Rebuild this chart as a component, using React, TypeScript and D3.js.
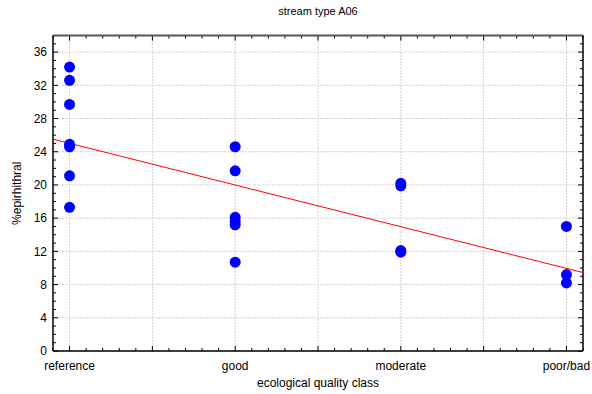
import React from "react";
import { scaleLinear, range, line } from "d3";

const categories = ["reference", "good", "moderate", "poor/bad"];
// values per category (index into categories)
const referenceValues = [34.2, 32.6, 29.7, 24.9, 24.6, 21.1, 17.3];
const goodValues = [24.6, 21.7, 16.1, 15.6, 15.2, 10.7];
const moderateValues = [20.2, 19.9, 12.1, 11.9];
const poorValues = [15.0, 9.2, 8.2];
const yTicks = [0, 4, 8, 12, 16, 20, 24, 28, 32, 36];

const W = 592;
const H = 394;
const margin = { top: 35.5, right: 9, bottom: 43, left: 53 };

export default function App() {
  const points = [referenceValues, goodValues, moderateValues, poorValues].flatMap((vals, i) =>
    vals.map((v) => ({ x: i, y: v }))
  );

  const x = scaleLinear().domain([-0.1, 3.1]).range([margin.left, W - margin.right]);
  const y = scaleLinear().domain([0, 38]).range([H - margin.bottom, margin.top]);

  // least squares fit
  const n = points.length;
  const mx = points.reduce((s, p) => s + p.x, 0) / n;
  const my = points.reduce((s, p) => s + p.y, 0) / n;
  const sxy = points.reduce((s, p) => s + (p.x - mx) * (p.y - my), 0);
  const sxx = points.reduce((s, p) => s + (p.x - mx) ** 2, 0);
  const slope = sxy / sxx;
  const icpt = my - slope * mx;
  const fit = [-0.1, 3.1].map((v) => [v, icpt + slope * v] as [number, number]);
  const fitPath = line<[number, number]>()
    .x((d) => x(d[0]))
    .y((d) => y(d[1]))(fit);

  const x0 = x.range()[0];
  const x1 = x.range()[1];
  const y0 = y.range()[0];
  const y1 = y.range()[1];

  const xGrid = range(0, 3.01, 0.5);
  const xMinor = range(-0.1, 3.101, 0.1);
  const yMinor = range(0, 38.01, 1);

  return (
    <svg width={W} height={H} style={{ position: "absolute", left: 0, top: 0, fontFamily: "Liberation Sans, Arial, sans-serif" }}>
      <rect width={W} height={H} fill="#fff" />
      {/* grid */}
      {yTicks.map((t) => (
        <line key={"gy" + t} x1={x0} x2={x1} y1={y(t)} y2={y(t)} stroke="#d2d2d2" strokeWidth={1} strokeDasharray="2,1" />
      ))}
      {xGrid.map((t) => (
        <line key={"gx" + t} x1={x(t)} x2={x(t)} y1={y0} y2={y1} stroke="#d2d2d2" strokeWidth={1} strokeDasharray="2,1" />
      ))}
      {/* minor ticks */}
      {yMinor.map((t) => {
        const len = t % 4 === 0 ? 5 : 3;
        return (
          <g key={"my" + t}>
            <line x1={x0} x2={x0 + len} y1={y(t)} y2={y(t)} stroke="#000" />
            <line x1={x1} x2={x1 - len} y1={y(t)} y2={y(t)} stroke="#000" />
          </g>
        );
      })}
      {xMinor.map((t, i) => {
        const major = Math.abs(t * 2 - Math.round(t * 2)) < 1e-6;
        const len = major ? 5 : 3;
        return (
          <g key={"mx" + i}>
            <line x1={x(t)} x2={x(t)} y1={y0} y2={y0 - len} stroke="#000" />
            <line x1={x(t)} x2={x(t)} y1={y1} y2={y1 + len} stroke="#000" />
          </g>
        );
      })}
      {/* frame */}
      <line x1={x0} x2={x1} y1={y1} y2={y1} stroke="#555" strokeWidth={2} />
      <line x1={x0} x2={x0} y1={y1} y2={y0} stroke="#000" strokeWidth={1.5} />
      <line x1={x1} x2={x1} y1={y1} y2={y0} stroke="#000" strokeWidth={1.5} />
      <line x1={x0} x2={x1} y1={y0} y2={y0} stroke="#000" strokeWidth={1.5} />
      {/* fit line */}
      <path d={fitPath ?? ""} stroke="#ff0000" strokeWidth={1} fill="none" />
      {/* points */}
      {points.map((p, i) => (
        <circle key={i} cx={x(p.x)} cy={y(p.y)} r={5.5} fill="#0000ff" />
      ))}
      {/* y tick labels */}
      {yTicks.map((t) => (
        <text key={"ly" + t} x={x0 - 6} y={y(t)} dy="0.35em" textAnchor="end" fontSize={12} fill="#000">
          {t}
        </text>
      ))}
      {/* x tick labels */}
      {categories.map((c, i) => (
        <text key={c} x={x(i)} y={y0 + 19} textAnchor="middle" fontSize={12} fill="#000">
          {c}
        </text>
      ))}
      <text x={(x0 + x1) / 2} y={15} textAnchor="middle" fontSize={11} fill="#000">
        stream type A06
      </text>
      <text x={(x0 + x1) / 2} y={387} textAnchor="middle" fontSize={12} fill="#000">
        ecological quality class
      </text>
      <text transform={`translate(21,${(y0 + y1) / 2}) rotate(-90)`} textAnchor="middle" fontSize={12} fill="#000">
        %epirhithral
      </text>
    </svg>
  );
}
